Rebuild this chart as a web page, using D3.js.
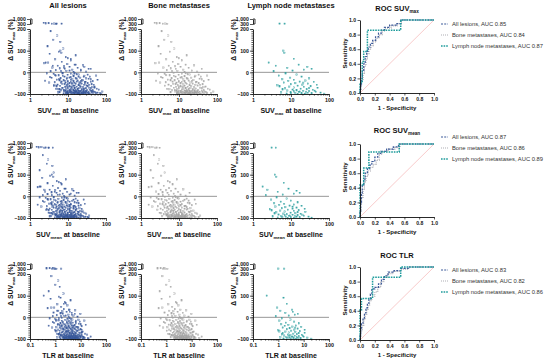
<!DOCTYPE html>
<html><head><meta charset="utf-8">
<script src="https://cdn.jsdelivr.net/npm/d3@7"></script>
<style>
body{margin:0;background:#fff}
svg{display:block}
text{font-family:"Liberation Sans",Arial,Helvetica,sans-serif}
</style></head>
<body><svg id="c" width="550" height="364"></svg>
<script>
// ---------------- DATA ----------------
const scatterTitles = ["All lesions", "Bone metastases", "Lymph node metastases"];
const rocTitles = [["ROC SUV","max"], ["ROC SUV","mean"], ["ROC TLR",""]];
const xLabels = [[["SUV",0],["max",1],[" at baseline",0]], [["SUV",0],["mean",1],[" at baseline",0]], [["TLR at baseline",0]]];
const yTickLow = [-100, 0, 100, 200];
const yTickHigh = [300, 1000];
const xTicksSuv = [1, 10, 100];
const xTicksTlr = [0.1, 1, 10, 100];
const rocTicks = [0, 0.2, 0.4, 0.6, 0.8, 1.0];
const legendNames = ["All lesions", "Bone metastases", "Lymph node metastases"];
const aucValues = [[0.85, 0.84, 0.87], [0.87, 0.86, 0.89], [0.83, 0.82, 0.86]];

// Bone metastases: delta SUVmax (%), SUVmax, SUVmean, TLR at baseline
const boneDelta = [380,420,330,360,310,450,190,170,150,140,
 120,110,95,85,70,60,55,48,42,38,
 35,30,28,25,22,20,18,15,12,10,
 8,6,5,3,2,65,78,32,45,15,
 -3,-6,-8,-10,-12,-14,-16,-18,-20,-22,
 -24,-25,-27,-28,-30,-31,-33,-34,-36,-37,
 -38,-40,-41,-42,-43,-44,-45,-46,-47,-48,
 -49,-50,-5,-15,-26,-35,-39,-20,-9,-44,
 -51,-52,-53,-54,-55,-56,-57,-58,-59,-60,
 -61,-62,-63,-64,-65,-66,-67,-68,-69,-70,
 -71,-72,-72,-73,-74,-75,-76,-77,-78,-79,
 -80,-80,-81,-82,-82,-83,-84,-84,-85,-85,
 -86,-86,-87,-87,-88,-88,-89,-89,-90,-90,
 -91,-91,-92,-92,-93,-93,-93,-94,-94,-94,
 -95,-95,-95,-96,-96,-96,-97,-97,-97,-98,
 -98,-98,-99,-99,-99,-97,-92,-89,-83,-78,
 -42,-47,-55,-58,-62,-66,-69,-73,-76,-81,
 -33,-29,-21,-17,-11,-4,-13,-23,-37,-46,
 -87,-88,-90,-91,-93,-94,-96,-98,-99,-100,
 -100,-99,-97,-95,-92,-86,-84,-79,-74,-68];
const boneSuvmax = [2.6,3.1,3.8,4.4,4.9,2.3,3.5,5.2,4.1,6.3,
 2.9,7.5,5.8,3.3,8.8,4.6,12,6.9,2.4,9.6,
 15,5.4,7.9,11,3.9,18,6.1,8.3,13,4.8,
 22,9.1,6.6,30,14,10,16,25,3.0,40,
 7.2,12,4.2,19,9.8,5.7,27,14,8.1,3.4,
 11,21,6.4,16,35,9.3,13,5.1,24,7.7,
 18,10,45,14,6.8,29,12,4.5,20,8.6,
 15,33,2.8,55,3.7,60,2.5,38,17,9.9,
 11,23,7.1,16,42,13,5.3,27,19,9.4,
 31,14,6.2,21,11,50,17,8.4,25,12,
 36,15,7.4,20,10,28,13,4.9,18,9.0,
 23,65,12,32,16,6.6,26,14,19,40,
 10,22,15,30,8.0,17,48,12,24,35,
 13,20,28,9.5,16,42,21,11,26,18,
 14,33,23,8.8,19,55,15,27,12,21,
 38,17,25,13,30,70,6.0,80,45,5.6,
 22,3.2,8.2,36,4.3,10,44,15,58,7.8,
 40,17,26,7.4,33,15,4.6,12,6.0,28,
 11,26,16,31,9.0,14,24,46,10,20,
 35,18,9.7,29,52,19,8.6,24,40,13];
const boneSuvmean = [1.7,2.0,2.4,2.6,3.1,1.5,2.2,3.0,2.8,3.9,
 1.8,4.2,3.4,2.1,5.1,2.9,6.8,4.0,1.6,5.5,
 8.1,3.3,4.6,6.2,2.5,9.5,3.7,5.0,7.3,2.9,
 11,5.4,3.8,15,7.9,5.8,8.9,13,1.9,19,
 4.3,6.9,2.6,10,5.6,3.5,14,7.7,4.8,2.2,
 6.4,11,3.9,8.6,17,5.3,7.1,3.2,12,4.5,
 9.7,6.0,22,7.6,4.1,15,6.7,2.8,10,5.0,
 8.2,16,1.8,26,2.4,28,1.6,18,9.2,5.7,
 6.3,12,4.2,8.8,20,7.2,3.3,14,10,5.4,
 16,7.8,3.8,11,6.5,24,9.3,4.9,13,6.9,
 18,8.3,4.4,11,6.0,14,7.4,3.1,9.9,5.2,
 12,30,6.8,16,8.7,4.0,13,7.5,10,19,
 5.9,12,8.0,15,4.7,9.4,23,6.6,12,17,
 7.0,10,14,5.5,8.5,21,11,6.2,13,9.6,
 7.7,16,12,5.1,10,27,8.1,14,6.7,11,
 19,9.0,13,7.3,15,33,3.6,36,22,3.4,
 11,2.0,4.9,17,2.7,6.1,21,8.4,27,4.6,
 19,9.1,13,4.4,16,8.2,2.9,6.9,3.7,14,
 6.4,13,8.9,15,5.2,7.9,12,22,5.9,10,
 17,9.5,5.6,14,25,10,5.0,12,19,7.2];
const boneTlr = [0.45,0.6,0.75,0.9,1.1,0.8,0.7,1.3,1.0,1.5,
 0.55,2.1,1.4,0.65,2.4,1.2,3.0,1.7,0.5,2.2,
 3.6,1.3,1.9,2.8,0.85,4.5,1.6,2.0,3.3,1.15,
 5.2,2.3,1.7,7.5,3.4,2.6,4.0,6.1,0.7,9.8,
 1.8,3.1,1.0,4.7,2.5,1.4,6.6,3.5,2.0,0.8,
 2.9,5.0,1.6,3.9,8.5,2.3,3.2,1.25,5.8,1.9,
 4.4,2.6,11,3.4,1.7,7.0,3.0,1.1,4.9,2.1,
 3.7,8.0,0.6,14,0.9,16,0.55,9.3,4.2,2.4,
 2.7,5.6,1.7,4.0,10,3.2,1.3,6.5,4.6,2.3,
 7.6,3.5,1.5,5.1,2.8,12,4.3,2.0,6.0,3.0,
 8.8,3.7,1.8,4.8,2.5,6.8,3.3,1.2,4.4,2.2,
 5.5,18,2.9,7.9,3.9,1.6,6.3,3.4,4.7,9.6,
 2.4,5.3,3.6,7.3,1.9,4.2,12,2.9,5.9,8.4,
 3.1,4.9,6.7,2.3,3.8,10,5.0,2.6,6.4,4.3,
 3.4,8.1,5.6,2.1,4.6,14,3.7,6.6,2.8,5.2,
 9.2,4.1,6.1,3.2,7.4,20,1.5,25,11,1.35,
 5.4,0.75,2.0,8.9,1.05,2.6,11,3.8,15,1.9,
 10,4.2,6.4,1.8,8.2,3.7,1.1,3.0,1.5,6.8,
 2.7,6.2,4.0,7.7,2.2,3.5,5.8,12,2.5,4.8,
 8.6,4.4,2.4,7.1,13,4.5,2.1,5.7,9.7,3.2];

// Lymph node metastases
const lnDelta = [350,340,100,90,45,30,62,20,35,12,
 25,8,5,15,-5,-10,-15,-20,-25,-28,
 -32,-35,-38,-40,-43,-45,-47,-50,-52,-55,
 -57,-60,-62,-64,-66,-68,-70,-72,-74,-76,
 -78,-80,-81,-83,-84,-86,-87,-88,-90,-91,
 -92,-93,-94,-95,-96,-97,-98,-99,-100,-99,
 -97,-95,-93,-89,-85,-79,-73,-65,-58,-48];
const lnSuvmax = [5.0,6.8,6.3,6.7,2.6,4.0,12,8.0,16,22,
 27,11,3.5,35,7.2,14,4.8,19,9.5,30,
 5.9,12,24,8.5,17,40,6.5,13,28,10,
 20,4.4,15,33,9.0,22,12,50,7.0,18,
 26,11,38,14,8.0,21,30,12,45,16,
 9.8,25,60,13,19,35,7.7,23,15,75,
 10,28,5.5,17,42,6.0,30,5.0,48,21];
const lnSuvmean = [3.1,4.0,3.8,4.1,1.8,2.4,6.5,4.5,8.6,12,
 14,6.1,2.2,17,4.2,7.7,3.0,10,5.4,15,
 3.6,6.6,12,4.9,9.2,19,3.9,7.1,14,5.8,
 11,2.8,8.3,16,5.2,12,6.8,24,4.1,9.8,
 13,6.3,18,7.8,4.7,11,15,6.9,22,8.8,
 5.6,13,29,7.4,10,17,4.5,12,8.2,35,
 5.9,14,3.3,9.4,20,3.7,15,3.1,23,11];
const lnTlr = [1.0,1.7,0.35,1.6,0.9,1.2,2.2,1.9,3.5,4.5,
 3.8,2.6,0.8,6.0,1.4,3.0,1.1,4.2,2.0,6.5,
 1.3,2.5,5.0,1.8,3.6,8.0,1.5,2.8,5.8,2.2,
 4.3,1.0,3.2,7.2,1.9,4.7,2.6,11,1.5,3.9,
 5.5,2.4,8.5,3.0,1.7,4.5,6.6,2.7,10,3.4,
 2.1,5.4,14,2.9,4.1,7.6,1.6,5.0,3.3,20,
 2.3,6.2,1.2,3.7,9.3,1.4,6.4,1.1,11,4.6];

// ROC curves: [1 - specificity, sensitivity]
const rocMaxAll = [[0,0],[0,0.05],[0.01,0.05],[0.01,0.12],[0.02,0.12],[0.02,0.2],[0.03,0.2],[0.03,0.3],[0.05,0.3],[0.05,0.4],[0.07,0.4],[0.07,0.5],[0.09,0.5],[0.09,0.57],[0.11,0.57],[0.11,0.63],[0.14,0.63],[0.14,0.68],[0.17,0.68],[0.17,0.72],[0.21,0.72],[0.21,0.77],[0.25,0.77],[0.25,0.82],[0.29,0.82],[0.29,0.86],[0.33,0.86],[0.33,0.9],[0.4,0.9],[0.4,0.93],[0.5,0.93],[0.5,0.95],[0.55,0.95],[0.55,1],[1,1]];
const rocMaxBone = [[0,0],[0,0.04],[0.01,0.04],[0.01,0.1],[0.02,0.1],[0.02,0.17],[0.04,0.17],[0.04,0.27],[0.06,0.27],[0.06,0.37],[0.08,0.37],[0.08,0.46],[0.1,0.46],[0.1,0.54],[0.12,0.54],[0.12,0.6],[0.15,0.6],[0.15,0.65],[0.18,0.65],[0.18,0.7],[0.22,0.7],[0.22,0.75],[0.26,0.75],[0.26,0.8],[0.3,0.8],[0.3,0.85],[0.34,0.85],[0.34,0.89],[0.42,0.89],[0.42,0.92],[0.5,0.92],[0.5,0.95],[0.56,0.95],[0.56,1],[1,1]];
const rocMaxLn = [[0,0],[0,0.14],[0.03,0.14],[0.03,0.43],[0.05,0.43],[0.05,0.57],[0.1,0.57],[0.1,0.86],[0.55,0.86],[0.55,1],[1,1]];
const rocMeanAll = [[0,0],[0,0.08],[0.01,0.08],[0.01,0.2],[0.02,0.2],[0.02,0.33],[0.03,0.33],[0.03,0.43],[0.05,0.43],[0.05,0.52],[0.07,0.52],[0.07,0.6],[0.1,0.6],[0.1,0.66],[0.13,0.66],[0.13,0.71],[0.16,0.71],[0.16,0.76],[0.2,0.76],[0.2,0.82],[0.24,0.82],[0.24,0.87],[0.28,0.87],[0.28,0.9],[0.36,0.9],[0.36,0.93],[0.45,0.93],[0.45,0.96],[0.52,0.96],[0.52,1],[1,1]];
const rocMeanBone = [[0,0],[0,0.06],[0.01,0.06],[0.01,0.16],[0.02,0.16],[0.02,0.27],[0.04,0.27],[0.04,0.38],[0.06,0.38],[0.06,0.48],[0.08,0.48],[0.08,0.56],[0.11,0.56],[0.11,0.63],[0.14,0.63],[0.14,0.68],[0.18,0.68],[0.18,0.72],[0.22,0.72],[0.22,0.78],[0.26,0.78],[0.26,0.86],[0.3,0.86],[0.3,0.9],[0.38,0.9],[0.38,0.93],[0.47,0.93],[0.47,0.95],[0.54,0.95],[0.54,1],[1,1]];
const rocMeanLn = [[0,0],[0,0.44],[0.05,0.44],[0.05,0.67],[0.12,0.67],[0.12,0.89],[0.53,0.89],[0.53,1],[1,1]];
const rocTlrAll = [[0,0],[0,0.06],[0.01,0.06],[0.01,0.14],[0.02,0.14],[0.02,0.22],[0.04,0.22],[0.04,0.3],[0.06,0.3],[0.06,0.37],[0.08,0.37],[0.08,0.44],[0.1,0.44],[0.1,0.5],[0.12,0.5],[0.12,0.56],[0.14,0.56],[0.14,0.63],[0.16,0.63],[0.16,0.7],[0.2,0.7],[0.2,0.72],[0.25,0.72],[0.25,0.77],[0.29,0.77],[0.29,0.83],[0.33,0.83],[0.33,0.88],[0.38,0.88],[0.38,0.93],[0.46,0.93],[0.46,0.95],[0.55,0.95],[0.55,0.98],[0.65,0.98],[0.65,1],[1,1]];
const rocTlrBone = [[0,0],[0,0.05],[0.01,0.05],[0.01,0.12],[0.03,0.12],[0.03,0.2],[0.05,0.2],[0.05,0.28],[0.07,0.28],[0.07,0.35],[0.09,0.35],[0.09,0.42],[0.11,0.42],[0.11,0.48],[0.13,0.48],[0.13,0.54],[0.16,0.54],[0.16,0.6],[0.2,0.6],[0.2,0.66],[0.24,0.66],[0.24,0.72],[0.28,0.72],[0.28,0.8],[0.32,0.8],[0.32,0.86],[0.37,0.86],[0.37,0.91],[0.45,0.91],[0.45,0.94],[0.55,0.94],[0.55,0.97],[0.66,0.97],[0.66,1],[1,1]];
const rocTlrLn = [[0,0],[0,0.41],[0.02,0.41],[0.02,0.57],[0.17,0.57],[0.17,0.86],[0.55,0.86],[0.55,1],[1,1]];

// ---------------- STYLE / LAYOUT ----------------
const colors = ["#37589a", "#a2a2a2", "#2a9e9e"];
const rocColors = ["#3c5a9a", "#a4a4ac", "#1f9c9c"];
const rocDash = ["2,1.2", "0.9,1.1", "1.6,1"];
const rocWidth = [1.2, 1.2, 1.5];
const rowOffScatter = [0, 124, 245];
const rowOffRoc = [0, 124, 247];
const panelX = [[30, 106], [141, 217], [253, 329]];
const legendY = [24, 13, 23];
const rocTitleY = [11, 9, 11];
const FONT = '"Liberation Sans",Arial,sans-serif';

const svg = d3.select("#c");

function rich(t, parts, fs) {
  let inSub = false;
  parts.forEach(([s, sub]) => {
    const ts = t.append("tspan").text(s);
    if (sub && !inSub) { ts.attr("dy", fs * 0.3).attr("font-size", fs * 0.62); inSub = true; }
    else if (!sub && inSub) { ts.attr("dy", -fs * 0.3).attr("font-size", fs); inSub = false; }
    else ts.attr("font-size", sub ? fs * 0.62 : fs);
  });
}

function styleAxis(g, fs) {
  g.selectAll("path.domain").attr("stroke", "#111").attr("stroke-width", 0.9);
  g.selectAll(".tick line").attr("stroke", "#111").attr("stroke-width", 0.7);
  g.selectAll(".tick text").attr("font-family", FONT).attr("font-size", fs).attr("font-weight", "bold").attr("fill", "#111");
}

function drawScatter(row, col) {
  const off = rowOffScatter[row];
  const gx = panelX[col];
  const g = svg.append("g").attr("transform", `translate(0,${off})`);
  const x = d3.scaleLog().domain(row === 2 ? [0.1, 100] : [1, 100]).range(gx);
  const yLow = d3.scaleLinear().domain([-100, 200]).range([94, 29]);
  const yHigh = d3.scaleLinear().domain([300, 1000]).range([24, 19]);
  const y = v => v > 250 ? yHigh(v) : yLow(v);

  // zero line
  g.append("line").attr("x1", gx[0]).attr("x2", gx[1]).attr("y1", yLow(0)).attr("y2", yLow(0))
    .attr("stroke", "#8c8c8c").attr("stroke-width", 0.9);

  const xsBone = [boneSuvmax, boneSuvmean, boneTlr][row];
  const xsLn = [lnSuvmax, lnSuvmean, lnTlr][row];
  let pts = [];
  if (col === 0 || col === 1) boneDelta.forEach((d, i) => pts.push([xsBone[i], d]));
  if (col === 0 || col === 2) lnDelta.forEach((d, i) => pts.push([xsLn[i], d]));
  const c = colors[col];
  g.append("g").selectAll("rect").data(pts).join("rect")
    .attr("x", d => x(d[0]) - 0.7).attr("y", d => y(d[1]) - 0.7).attr("width", 1.4).attr("height", 1.4)
    .attr("fill", c).attr("fill-opacity", 0.35)
    .attr("stroke", c).attr("stroke-width", 0.4).attr("stroke-opacity", 0.9);

  // x axis
  const bottom = yLow(-100);
  const majors = row === 2 ? xTicksTlr : xTicksSuv;
  const minors = [];
  for (let i = 0; i < majors.length - 1; i++) for (let k = 2; k <= 9; k++) minors.push(majors[i] * k);
  const xaMin = g.append("g").attr("transform", `translate(0,${bottom})`)
    .call(d3.axisBottom(x).tickValues(minors).tickSize(1.6).tickFormat(""));
  xaMin.select("path.domain").remove();
  styleAxis(xaMin, 5);
  const xa = g.append("g").attr("transform", `translate(0,${bottom})`)
    .call(d3.axisBottom(x).tickValues(majors).tickSize(3).tickSizeOuter(0).tickPadding(1.5).tickFormat(d => String(d)));
  styleAxis(xa, 5.3);

  // y axis lower segment
  const yMin = g.append("g").attr("transform", `translate(${gx[0]},0)`)
    .call(d3.axisLeft(yLow).tickValues(d3.range(-100, 201, 10)).tickSize(1.6).tickFormat(""));
  yMin.select("path.domain").remove();
  styleAxis(yMin, 5);
  const ya = g.append("g").attr("transform", `translate(${gx[0]},0)`)
    .call(d3.axisLeft(yLow).tickValues(yTickLow).tickSize(3).tickSizeOuter(0).tickPadding(1.2));
  styleAxis(ya, 5.2);
  // y axis upper segment
  const yb = g.append("g").attr("transform", `translate(${gx[0]},0)`)
    .call(d3.axisLeft(yHigh).tickValues(yTickHigh).tickSize(3).tickSizeOuter(0).tickPadding(1.2));
  styleAxis(yb, 5.2);
  // bracket at break
  g.append("path").attr("d", `M${gx[0]},${yHigh(1000)}h2V${yHigh(300)}h-2`).attr("fill", "none")
    .attr("stroke", "#111").attr("stroke-width", 0.8);

  // y label
  const yl = g.append("text").attr("transform", `translate(${gx[0] - 17.5},40) rotate(-90)`)
    .attr("text-anchor", "middle").attr("font-weight", "bold").attr("fill", "#111");
  rich(yl, [["\u0394 SUV", 0], ["max", 1], [" (%)", 0]], 6.8);

  // x label
  const xl = g.append("text").attr("x", (gx[0] + gx[1]) / 2).attr("y", bottom + 19)
    .attr("text-anchor", "middle").attr("font-weight", "bold").attr("fill", "#111");
  rich(xl, xLabels[row], 7);

  if (row === 0) {
    g.append("text").attr("x", (gx[0] + gx[1]) / 2).attr("y", 8).attr("text-anchor", "middle")
      .attr("font-weight", "bold").attr("font-size", 7.5).attr("fill", "#111").text(scatterTitles[col]);
  }
}

function drawRoc(row) {
  const off = rowOffRoc[row];
  const g = svg.append("g").attr("transform", `translate(0,${off})`);
  const x = d3.scaleLinear().domain([0, 1]).range([360, 434]);
  const y = d3.scaleLinear().domain([0, 1]).range([93, 20]);
  const line = d3.line().x(d => x(d[0])).y(d => y(d[1]));

  g.append("path").attr("d", line([[0, 0], [1, 1]])).attr("stroke", "#f4a8a8").attr("stroke-width", 0.6).attr("fill", "none");

  const curves = [[rocMaxAll, rocMaxBone, rocMaxLn], [rocMeanAll, rocMeanBone, rocMeanLn], [rocTlrAll, rocTlrBone, rocTlrLn]][row];
  [1, 0, 2].forEach(k => {
    g.append("path").attr("d", line(curves[k])).attr("fill", "none")
      .attr("stroke", rocColors[k]).attr("stroke-width", rocWidth[k]).attr("stroke-dasharray", rocDash[k]);
  });

  const xa = g.append("g").attr("transform", `translate(0,${y(0)})`)
    .call(d3.axisBottom(x).tickValues(rocTicks).tickSize(2.5).tickSizeOuter(0).tickPadding(1.5).tickFormat(d3.format(".1f")));
  styleAxis(xa, 5.1);
  const ya = g.append("g").attr("transform", `translate(${x(0)},0)`)
    .call(d3.axisLeft(y).tickValues(rocTicks).tickSize(2.5).tickSizeOuter(0).tickPadding(1.5).tickFormat(d3.format(".1f")));
  styleAxis(ya, 5.1);

  g.append("text").attr("transform", `translate(${x(0) - 13.5},${(y(0) + y(1)) / 2 - 3}) rotate(-90)`)
    .attr("text-anchor", "middle").attr("font-weight", "bold").attr("font-size", 6).attr("fill", "#111").text("Sensitivity");
  g.append("text").attr("x", (x(0) + x(1)) / 2).attr("y", y(0) + 17).attr("text-anchor", "middle")
    .attr("font-weight", "bold").attr("font-size", 6).attr("fill", "#111").text("1 - Specificity");

  const tt = g.append("text").attr("x", (x(0) + x(1)) / 2).attr("y", rocTitleY[row]).attr("text-anchor", "middle")
    .attr("font-weight", "bold").attr("fill", "#111");
  rich(tt, rocTitles[row][1] ? [[rocTitles[row][0], 0], [rocTitles[row][1], 1]] : [[rocTitles[row][0], 0]], 7.5);

  // legend
  legendNames.forEach((nm, k) => {
    const ly = legendY[row] + k * 11;
    g.append("line").attr("x1", 441).attr("x2", 448).attr("y1", ly).attr("y2", ly)
      .attr("stroke", rocColors[k]).attr("stroke-width", rocWidth[k]).attr("stroke-dasharray", rocDash[k]);
    g.append("text").attr("x", 452).attr("y", ly + 2).attr("font-size", 5.8).attr("fill", "#333")
      .text(`${nm}, AUC ${aucValues[row][k].toFixed(2)}`);
  });
}

for (let r = 0; r < 3; r++) {
  for (let c = 0; c < 3; c++) drawScatter(r, c);
  drawRoc(r);
}
</script></body></html>
